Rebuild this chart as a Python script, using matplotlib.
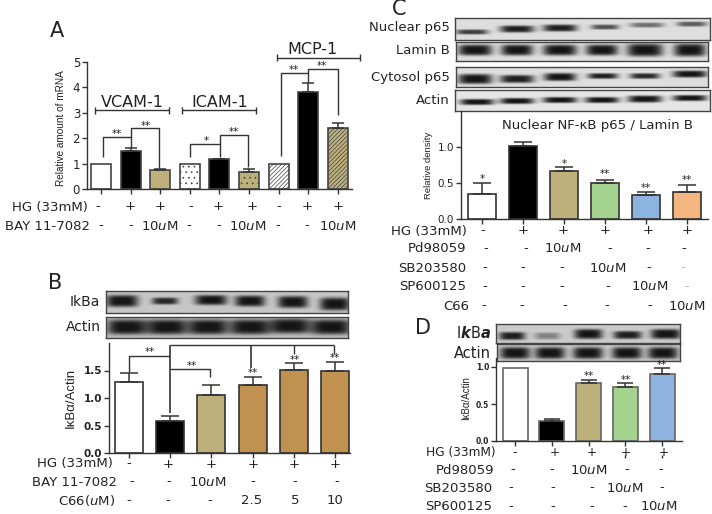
import numpy as np
import matplotlib.pyplot as plt

W, H = 712, 514
plt.rcParams['font.family'] = ['DejaVu Sans']
plt.rcParams['mathtext.fontset'] = 'dejavusans'

# ---- data
a_vals = [1, 1.48, 0.75, 1, 1.17, 0.67, 1, 3.82, 2.42]
a_errs = [0, 0.13, 0.03, 0, 0.03, 0.13, 0, 0.36, 0.18]
a_cols = ['white', 'black', '#BDB07A', 'white', 'black', '#BDB07A', 'white', 'black', '#BDB07A']
a_hatch = ['', '', '', '...', '', '...', '////////', '', '////////']
b_vals = [1.3, 0.59, 1.05, 1.23, 1.51, 1.49]
b_errs = [0.16, 0.08, 0.18, 0.15, 0.12, 0.16]
b_cols = ['white', 'black', '#BDB07A', '#C1914F', '#C1914F', '#C1914F']
c_vals = [0.35, 1.01, 0.67, 0.5, 0.33, 0.37]
c_errs = [0.15, 0.06, 0.05, 0.04, 0.05, 0.1]
c_cols = ['white', 'black', '#BDB07A', '#A5D490', '#8DB4E0', '#F4B67F']
d_vals = [0.99, 0.27, 0.78, 0.73, 0.9]
d_errs = [0, 0.03, 0.04, 0.05, 0.08]
d_cols = ['white', 'black', '#BDB07A', '#A5D490', '#8DB4E0']

uM = r'10$\mathit{u}$M'

# blot bands: centre x, half width, centre y, half height, darkness
b_ikba = [(122, 16, 301, 6, 1), (165, 13, 301, 3.5, .9), (211, 16, 300, 5, 1),
          (250, 15, 301, 5.5, 1), (293, 15, 302, 6, 1), (335, 15, 304, 6.5, 1)]
b_actin = [(127, 20, 327, 7.5, 1), (167, 20, 327, 7.5, 1), (208, 20, 327, 7.5, 1),
           (250, 20, 327, 7.5, 1), (290, 20, 326, 7.5, 1), (331, 20, 327, 7.5, 1)]
c_nuc = [(472, 16, 32, 2.5, .8), (517, 17, 29, 3.5, .95), (560, 17, 28, 3.5, .95),
         (605, 14, 27, 2.5, .7), (647, 17, 25, 2.5, .55), (692, 15, 24, 2.5, .65)]
c_lam = [(475, 17, 50, 5.5, 1), (517, 16, 50, 5.5, 1), (560, 17, 50, 5.5, 1),
         (602, 16, 50, 5.5, 1), (645, 18, 50, 6.5, 1), (690, 16, 50, 6.5, 1)]
c_cyt = [(475, 17, 79, 5, 1), (517, 17, 79, 4, .95), (560, 16, 77, 4, 1),
         (603, 15, 76, 2.8, .95), (645, 15, 76, 2.8, .9), (690, 17, 74, 3.5, 1)]
c_act = [(477, 17, 102, 3, 1), (517, 17, 101, 3, 1), (560, 17, 100, 3, 1),
         (602, 17, 100, 3, 1), (645, 17, 99, 3.5, 1), (690, 17, 98, 3, 1)]
d_ikb = [(512, 13, 336, 4, .95), (547, 13, 336, 3.5, .4), (588, 14, 334, 5, 1),
         (627, 14, 335, 4, .95), (665, 15, 334, 5, 1)]
d_act = [(515, 15, 353, 6, 1), (550, 15, 353, 6, 1), (588, 15, 353, 6, 1),
         (627, 15, 353, 6, 1), (663, 15, 353, 6, 1)]

fig = plt.figure(figsize=(W / 100, H / 100), dpi=100)


def px_axes(left, top, right, bottom):
    return fig.add_axes([left / W, 1 - bottom / H, (right - left) / W, (bottom - top) / H])


def label(x, y, s, size=9.5, ha='center', color='#222222', **kw):
    fig.text(x / W, 1 - y / H, s, fontsize=size, ha=ha, va='center', color=color, **kw)


def blot(left, top, right, bottom, bands, bg=0.8):
    ax = px_axes(left, top, right, bottom)
    xs = np.linspace(left, right, (right - left) * 3)
    ys = np.linspace(top, bottom, (bottom - top) * 3)
    xx, yy = np.meshgrid(xs, ys)
    dark = np.zeros_like(xx)
    for cx, hw, cy, hh, d in bands:
        dark += d * np.exp(-((xx - cx) / hw) ** 4 - ((yy - cy) / hh) ** 4)
    dark = np.clip(dark, 0, 1)
    img = bg * (1 - dark) + 0.08 * dark
    ax.imshow(img, cmap='gray', vmin=0, vmax=1, extent=[left, right, bottom, top], aspect='auto')
    ax.set_xticks([])
    ax.set_yticks([])
    for s in ax.spines.values():
        s.set_color('#444444')
        s.set_linewidth(1)


def bars(rect, first, step, width, ymax, vals, errs, cols, yticks, ticklabels, tick_size,
         bold=False, edge='#333333', hatches=None):
    left, top, right, bottom = rect
    ax = px_axes(*rect)
    ax.patch.set_alpha(0)
    x = np.arange(len(vals))
    ax.set_xlim((left - first) / step, (right - first) / step)
    ax.set_ylim(0, ymax)
    plt.rcParams['hatch.linewidth'] = 0.5
    for i in x:
        col = cols[i]
        hatch = hatches[i] if hatches else ''
        hc = '#444444' if hatch else edge
        ax.bar(i, vals[i], width / step, color=col, edgecolor=hc, hatch=hatch, linewidth=0)
        ax.bar(i, vals[i], width / step, fill=False, edgecolor=edge, linewidth=1.2)
        if errs[i] > 0:
            ax.errorbar(i, vals[i], yerr=[[0], [errs[i]]], color='#333333', capsize=width * 0.23,
                        linewidth=1.1, capthick=1.1)
    for s in ['top', 'right']:
        ax.spines[s].set_visible(False)
    for s in ['left', 'bottom']:
        ax.spines[s].set_color('#333333')
        ax.spines[s].set_linewidth(1)
    ax.set_xticks(x)
    ax.set_xticklabels([])
    ax.set_yticks(yticks)
    ax.set_yticklabels(ticklabels, fontsize=tick_size, color='#222222',
                       fontweight='bold' if bold else 'normal')
    ax.tick_params(length=3.5, width=1, color='#333333', pad=1.5)
    return ax


def line(ax, xs, ys, lw=1):
    ax.plot(xs, ys, color='#333333', lw=lw, clip_on=False, solid_capstyle='butt')


def stars(ax, x, y, s='**'):
    ax.text(x, y, s, ha='center', va='center', fontsize=7.5, color='#222222', clip_on=False)


def ylab(x, y, s, size):
    fig.text(x / W, 1 - y / H, s, rotation=90, ha='center', va='center', fontsize=size,
             family='Liberation Sans', color='#222222')


def row(name, right, y, cols, marks, size=9.5):
    label(right, y, name, size=size, ha='right')
    for cx, m in zip(cols, marks):
        col = '#bbbbbb' if m == 'light' else '#222222'
        label(cx, y, '-' if m == 'light' else m, size=size, color=col)


# ---- panel A
ax_a = bars((87, 62, 352, 189), 101, 29.6, 20, 5, a_vals, a_errs, a_cols,
            [0, 1, 2, 3, 4, 5], ['0', '1', '2', '3', '4', '5'], 8.5, hatches=a_hatch, edge='#444444')
ylab(61, 128, 'Relative amount of mRNA', 7.2)
for xs, yb, name, xt in [((-0.2, 2.3), 3.1, 'VCAM-1', 1.05), ((2.75, 5.25), 3.1, 'ICAM-1', 4.0),
                         ((5.95, 8.75), 5.16, 'MCP-1', 7.15)]:
    line(ax_a, xs, [yb, yb])
    for xe in xs:
        line(ax_a, [xe, xe], [yb - 0.14, yb + 0.14])
    ax_a.text(xt, yb + 0.32, name, ha='center', va='center', fontsize=11.5, color='#222222')
line(ax_a, [0.07, 0.07, 1, 1], [1.26, 2.04, 2.04, 1.62])
line(ax_a, [1, 1, 1.95, 1.95], [2.04, 2.4, 2.4, 0.82])
line(ax_a, [3, 3, 4.03, 4.03], [1.26, 1.77, 1.77, 1.25])
line(ax_a, [4.03, 4.03, 4.97, 4.97], [1.77, 2.12, 2.12, 0.86])
line(ax_a, [6.07, 6.07, 7, 7], [1.3, 4.57, 4.57, 4.2])
line(ax_a, [7, 7, 8, 8], [4.57, 4.72, 4.72, 2.9])
stars(ax_a, 0.55, 2.15)
stars(ax_a, 1.5, 2.5)
stars(ax_a, 3.55, 1.9, '*')
stars(ax_a, 4.5, 2.25)
stars(ax_a, 6.5, 4.68)
stars(ax_a, 7.45, 4.83)
row('HG (33mM)', 88, 207, [98, 130, 160, 191, 218, 252, 279, 307, 338], ['-', '+', '+'] * 3)
row('BAY 11-7082', 90, 226, [101, 131, 160, 189, 219, 248, 278, 307, 338], ['-', '-', uM] * 3)
label(57, 31, 'A', size=15)

# ---- panel B
label(100, 302, 'IkBa', size=10, ha='right')
label(101, 327, 'Actin', size=10, ha='right')
blot(106, 291, 348, 313, b_ikba, bg=0.78)
blot(106, 317, 348, 338, b_actin, bg=0.75)
ax_b = bars((109, 343, 350, 453), 129, 41.2, 28, 2, b_vals, b_errs, b_cols,
            [0, 0.5, 1, 1.5], ['0.0', '0.5', '1.0', '1.5'], 7.5, bold=True)
ylab(71, 398, 'IκBα/Actin', 9.5)
line(ax_b, [0, 0, 1], [1.47, 1.76, 1.76])
line(ax_b, [1, 1], [0.73, 1.96], lw=1.2)
line(ax_b, [1, 4.98], [1.96, 1.96])
line(ax_b, [2.96, 2.96], [1.96, 1.55], lw=1.2)
line(ax_b, [4, 4], [1.96, 1.8])
line(ax_b, [4.98, 4.98], [1.96, 1.8])
line(ax_b, [1, 1.97, 1.97], [1.53, 1.53, 1.38])
stars(ax_b, 0.5, 1.83)
stars(ax_b, 1.52, 1.59)
stars(ax_b, 3, 1.46)
stars(ax_b, 4.03, 1.7)
stars(ax_b, 5, 1.73)
row('HG (33mM)', 113, 464, [129, 168, 211, 253, 294, 335], ['-', '+', '+', '+', '+', '+'])
row('BAY 11-7082', 117, 482, [132, 169, 208, 253, 295, 337], ['-', '-', uM, '-', '-', '-'])
row(r'C66($\mathit{u}$M)', 115, 501, [129, 168, 210, 252, 295, 335], ['-', '-', '-', '2.5', '5', '10'])
label(55, 283, 'B', size=15)

# ---- panel C
label(450, 28, 'Nuclear p65', size=9.5, ha='right')
label(450, 50, 'Lamin B', size=9.5, ha='right')
label(450, 78, 'Cytosol p65', size=9.5, ha='right')
label(450, 100, 'Actin', size=9.5, ha='right')
blot(455, 18, 710, 40, c_nuc, bg=0.87)
blot(456, 42, 708, 61, c_lam, bg=0.87)
blot(456, 67, 708, 87, c_cyt, bg=0.87)
blot(455, 90, 710, 111, c_act, bg=0.9)
ax_c = bars((461, 111, 708, 219), 482, 41, 28, 1.5, c_vals, c_errs, c_cols,
            [0, 0.5, 1], ['0.0', '0.5', '1.0'], 7.5)
ylab(429, 165, 'Relative density', 6.8)
label(598, 126, 'Nuclear NF-κB p65 / Lamin B', size=9.5)
stars(ax_c, 0, 0.56, '*')
stars(ax_c, 2, 0.76, '*')
stars(ax_c, 3, 0.62)
stars(ax_c, 4, 0.43)
stars(ax_c, 5, 0.54)
row('HG (33mM)', 467, 231, [483, 523, 563, 605, 648, 687], ['-', '+', '+', '+', '+', '+'])
row('Pd98059', 466, 249, [486, 526, 563, 610, 648, 684], ['-', '-', uM, '-', '-', '-'])
row('SB203580', 466, 268, [485, 523, 562, 608, 649, 683], ['-', '-', '-', uM, '-', 'light'])
row('SP600125', 466, 287, [485, 523, 562, 608, 650, 687], ['-', '-', '-', '-', uM, 'light'])
row('C66', 469, 306, [484, 522, 565, 607, 650, 687], ['-', '-', '-', '-', '-', uM])
label(399, 9, 'C', size=15)

# ---- panel D
label(491, 333, r'I$\mathbfit{k}$B$\mathbfit{a}$', size=10.5, ha='right')
label(491, 353, 'Actin', size=10.5, ha='right')
blot(496, 324, 680, 343, d_ikb, bg=0.8)
blot(497, 344, 680, 361, d_act, bg=0.8)
ax_d = bars((496, 358, 682, 441), 515, 36.8, 25, 83 / 74, d_vals, d_errs, d_cols,
            [0, 0.5, 1], ['0.0', '0.5', '1.0'], 5.5, bold=True, edge='#666666')
ylab(466, 398, 'IκBα/Actin', 7)
line(ax_d, [3, 3], [-0.19, -0.23])
line(ax_d, [4, 4], [-0.19, -0.23])
stars(ax_d, 2, 0.88)
stars(ax_d, 3, 0.82)
stars(ax_d, 4, 1.03)
row('HG (33mM)', 496, 452.5, [515, 555, 592, 626, 664], ['-', '+', '+', '+', '+'], size=8.7)
row('Pd98059', 494, 470, [513, 552, 589, 627, 661], ['-', '-', uM, '-', '-'])
row('SB203580', 492, 488, [511, 553, 592, 625, 662], ['-', '-', '-', uM, '-'])
row('SP600125', 492, 507, [511, 553, 592, 625, 659], ['-', '-', '-', '-', uM])
label(423, 328, 'D', size=15)

fig.savefig('out.png', dpi=100)
